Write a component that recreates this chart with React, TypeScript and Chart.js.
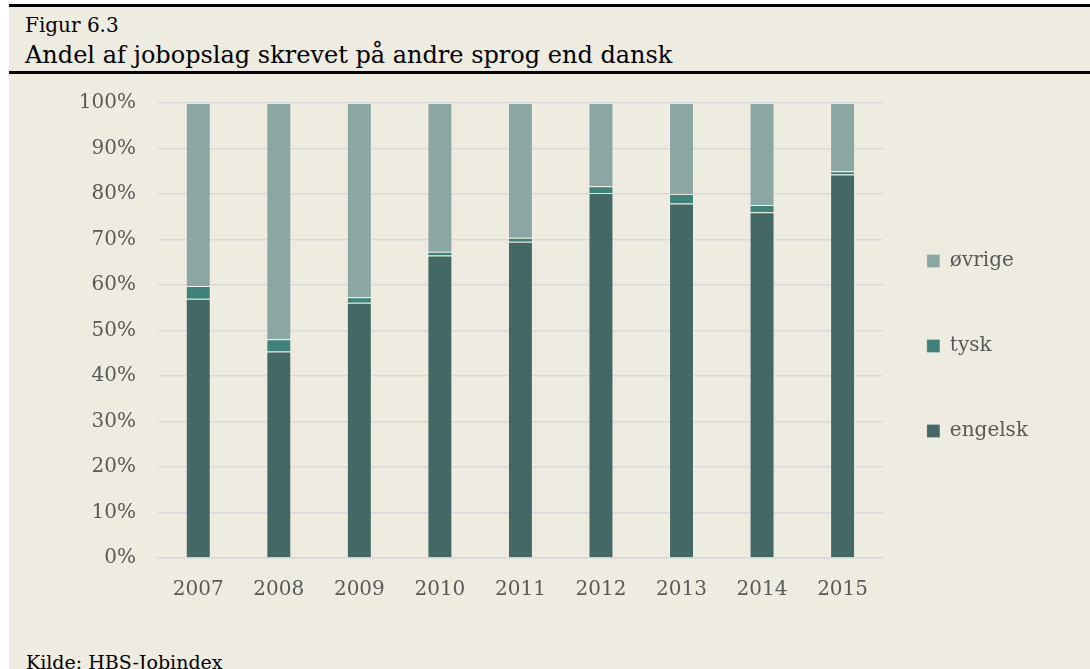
import React, { useEffect, useRef } from "react";
import { Chart, registerables } from "chart.js";

Chart.register(...registerables);

const years = ["2007", "2008", "2009", "2010", "2011", "2012", "2013", "2014", "2015"];
const engelsk = [57.0, 45.4, 56.1, 66.5, 69.5, 80.2, 77.9, 76.0, 84.3];
const tysk = [2.8, 2.7, 1.2, 0.8, 0.9, 1.5, 2.1, 1.6, 0.7];
const ovrige = [40.2, 51.9, 42.7, 32.7, 29.6, 18.3, 20.0, 22.4, 15.0];
const yTicks = [0, 10, 20, 30, 40, 50, 60, 70, 80, 90, 100];

const FONT = "'DejaVu Serif', serif";
const BG = "#eeebe0";

export default function App() {
  const ref = useRef<HTMLCanvasElement | null>(null);

  useEffect(() => {
    if (!ref.current) return;
    const legendShift = {
      id: "legendShift",
      afterLayout(chart: any) {
        const l = chart.legend;
        if (!l) return;
        const pad = l.options.labels.padding;
        const dx = chart.chartArea.right + 44 - (l.left + pad);
        const curMid = (l.top + l.bottom) / 2;
        const dy = 277 - curMid;
        l.left += dx;
        l.right += dx;
        l.top += dy;
        l.bottom += dy;
      },
    };
    const chart = new Chart(ref.current, {
      type: "bar",
      data: {
        labels: years,
        datasets: [
          { label: "engelsk", data: engelsk, backgroundColor: "#436865" },
          { label: "tysk", data: tysk, backgroundColor: "#3e827a" },
          { label: "øvrige", data: ovrige, backgroundColor: "#8ca6a4" },
        ].map((d) => ({
          ...d,
          borderColor: "rgba(255,255,255,0.2)",
          borderWidth: 1,
          barPercentage: 0.31,
          categoryPercentage: 1,
        })),
      },
      options: {
        animation: false,
        responsive: true,
        maintainAspectRatio: false,
        layout: { padding: { top: 0, bottom: 0, left: 0, right: 31 } },
        font: { family: FONT },
        plugins: {
          tooltip: { enabled: false },
          legend: {
            position: "right",
            reverse: true,
            labels: {
              boxWidth: 13,
              boxHeight: 13,
              padding: 65,
              color: "#595959",
              font: { family: FONT, size: 20 },
            },
          },
        },
        scales: {
          x: {
            stacked: true,
            grid: { display: false, drawTicks: false },
            border: { display: true, color: "#d9d9d9", width: 1.5 },
            ticks: { color: "#595959", padding: 20, font: { family: FONT, size: 20 } },
          },
          y: {
            stacked: true,
            min: 0,
            max: 100,
            afterFit(scale: any) {
              scale.width = 149;
            },
            afterBuildTicks(scale: any) {
              scale.ticks = yTicks.map((v) => ({ value: v }));
            },
            grid: { color: "#d9d9d9", lineWidth: 1.5, drawTicks: false },
            border: { display: false },
            ticks: {
              color: "#595959",
              padding: 22,
              font: { family: FONT, size: 20 },
              callback: (v: any) => v + "%",
            },
          },
        },
      },
      plugins: [legendShift],
    } as any);
    return () => chart.destroy();
  }, []);

  const text = (style: React.CSSProperties, s: string) => (
    <div style={{ position: "absolute", whiteSpace: "nowrap", fontFamily: FONT, color: "#000", ...style }}>{s}</div>
  );

  return (
    <div style={{ position: "absolute", left: 0, top: 0, width: 1090, height: 669, overflow: "hidden", background: "#fff" }}>
      <div style={{ position: "absolute", left: 9, top: 4, width: 1081, height: 665, background: BG }} />
      <div style={{ position: "absolute", left: 9, top: 69, width: 1081, height: 553 }}>
        <canvas ref={ref} />
      </div>
      <div style={{ position: "absolute", left: 9, top: 4, width: 1081, height: 3, background: "#000" }} />
      <div style={{ position: "absolute", left: 9, top: 71, width: 1081, height: 3, background: "#000" }} />
      {text({ left: 25, top: 15, fontSize: 20, lineHeight: "20px" }, "Figur 6.3")}
      {text({ left: 25, top: 43, fontSize: 24, lineHeight: "24px" }, "Andel af jobopslag skrevet på andre sprog end dansk")}
      {text({ left: 26, top: 653, fontSize: 19, lineHeight: "19px" }, "Kilde: HBS-Jobindex")}
    </div>
  );
}
